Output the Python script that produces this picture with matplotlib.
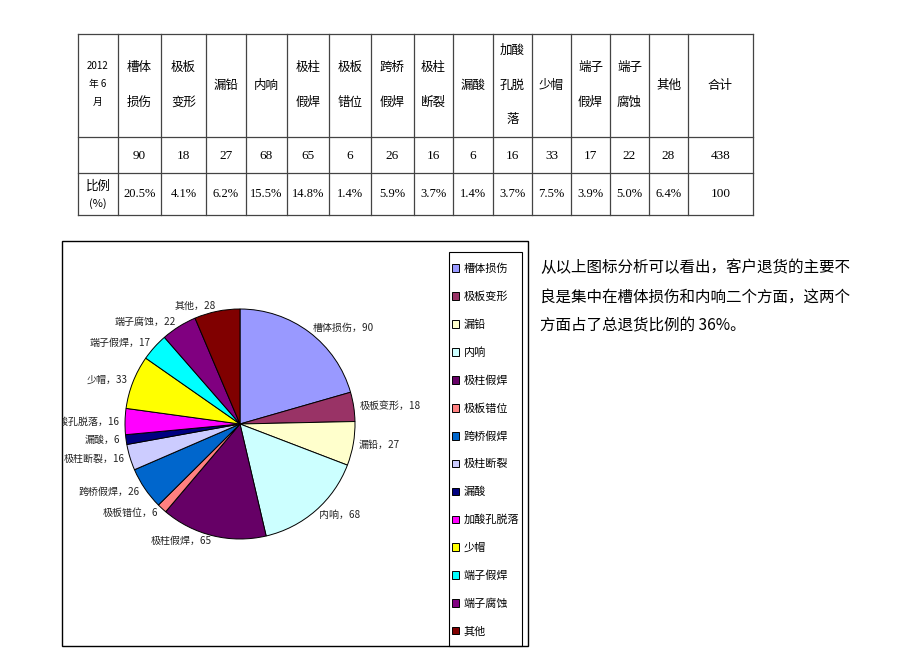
import matplotlib.pyplot as plt
from matplotlib.patches import Rectangle

plt.rcParams['font.family'] = ['Noto Sans CJK SC', 'DejaVu Sans']

# data
categories = ['槽体损伤', '极板变形', '漏铅', '内响', '极柱假焊', '极板错位', '跨桥假焊',
              '极柱断裂', '漏酸', '加酸孔脱落', '少帽', '端子假焊', '端子腐蚀', '其他']
header_lines = [['槽体', '损伤'], ['极板', '变形'], ['漏铅'], ['内响'], ['极柱', '假焊'],
                ['极板', '错位'], ['跨桥', '假焊'], ['极柱', '断裂'], ['漏酸'],
                ['加酸', '孔脱', '落'], ['少帽'], ['端子', '假焊'], ['端子', '腐蚀'], ['其他']]
counts = [90, 18, 27, 68, 65, 6, 26, 16, 6, 16, 33, 17, 22, 28]
percents = ['20.5%', '4.1%', '6.2%', '15.5%', '14.8%', '1.4%', '5.9%',
            '3.7%', '1.4%', '3.7%', '7.5%', '3.9%', '5.0%', '6.4%']
total = 438
colors = ['#9999FF', '#993366', '#FFFFCC', '#CCFFFF', '#660066', '#FF8080', '#0066CC',
          '#CCCCFF', '#000080', '#FF00FF', '#FFFF00', '#00FFFF', '#800080', '#800000']
note = ['从以上图标分析可以看出，客户退货的主要不',
        '良是集中在槽体损伤和内响二个方面，这两个',
        '方面占了总退货比例的 36%。']

W, H = 920, 651
fig = plt.figure(figsize=(W / 100, H / 100), dpi=100)
ax = fig.add_axes([0, 0, 1, 1])
ax.set_xlim(0, W)
ax.set_ylim(H, 0)
ax.axis('off')

# ---- table ----
col_x = [78, 118, 161, 206, 246, 287, 329, 371, 414, 453, 493, 532, 571, 610, 649, 688, 753]
row_y = [34, 137, 173, 215]
lc = '#444444'
for x in col_x:
    ax.plot([x, x], [row_y[0], row_y[-1]], color=lc, lw=0.9)
for y in row_y:
    ax.plot([col_x[0], col_x[-1]], [y, y], color=lc, lw=0.9)

# first column
for i, t in enumerate(['2012', '年 6', '月']):
    ax.text(98, 66 + i * 18, t, ha='center', va='center', fontsize=7)
ax.text(98, 186, '比例', ha='center', va='center', fontsize=9)
ax.text(98, 204, '(%)', ha='center', va='center', fontsize=8)

for j, lines in enumerate(header_lines):
    cx = (col_x[j + 1] + col_x[j + 2]) / 2
    n = len(lines)
    for k, t in enumerate(lines):
        y = 85 + (k - (n - 1) / 2) * 35
        ax.text(cx, y, t, ha='center', va='center', fontsize=9)
    ax.text(cx, 156, str(counts[j]), ha='center', va='center', fontsize=9.5,
            family='Liberation Serif')
    ax.text(cx, 194, percents[j], ha='center', va='center', fontsize=9,
            family='Liberation Serif')

cx = (col_x[-2] + col_x[-1]) / 2
ax.text(cx, 85, '合计', ha='center', va='center', fontsize=9)
ax.text(cx, 156, str(total), ha='center', va='center', fontsize=9.5, family='Liberation Serif')
ax.text(cx, 194, '100', ha='center', va='center', fontsize=9.5, family='Liberation Serif')

# ---- chart frame ----
frame = Rectangle((62, 241), 466, 405, fill=False, ec='black', lw=1)
ax.add_patch(frame)
ax.add_patch(Rectangle((449, 252), 73, 394, fill=False, ec='black', lw=0.8))

# ---- pie ----
cxp, cyp, r = 240, 424, 115
size = r * 2.5
pax = fig.add_axes([(cxp - size / 2) / W, 1 - (cyp + size / 2) / H, size / W, size / H])
labels = [f'{c}，{v}' for c, v in zip(categories, counts)]
wedges, texts = pax.pie(counts, labels=labels, colors=colors, startangle=90,
                        counterclock=False, labeldistance=1.05,
                        wedgeprops=dict(edgecolor='black', linewidth=0.7),
                        textprops=dict(fontsize=7.2, color='#222222'))
pax.set_xlim(-1.25, 1.25)
pax.set_ylim(-1.25, 1.25)
pax.set_aspect('equal')
# labels running past the chart border get cut, like the original
for t in texts:
    t.set_clip_path(frame)
    t.set_clip_on(True)

leg = fig.legend(wedges, categories, loc='upper left',
                 bbox_to_anchor=(450 / W, 1 - 261 / H), frameon=False,
                 fontsize=8, handlelength=0.65, handleheight=0.65,
                 handletextpad=0.4, labelspacing=1.57, borderaxespad=0, borderpad=0.2)

# ---- note text ----
for i, t in enumerate(note):
    ax.text(540, 268 + i * 29, t, ha='left', va='center', fontsize=11.2)

fig.savefig('out.png', dpi=100)
